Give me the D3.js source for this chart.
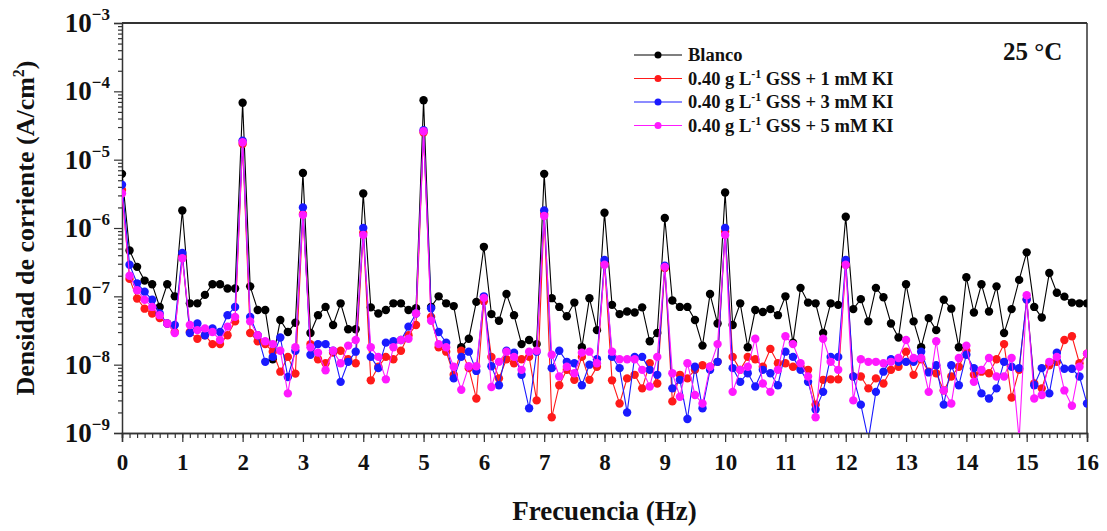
<!DOCTYPE html>
<html>
<head>
<meta charset="utf-8">
<script src="https://cdn.jsdelivr.net/npm/d3@7"></script>
<style>
  body { margin: 0; background: #fff; }
  svg text { font-family: "Liberation Serif", "Times New Roman", serif; font-weight: bold; fill: #111; }
</style>
</head>
<body>
<script>
// Define SVG area dimensions
var svgWidth = 1107;
var svgHeight = 531;

// plot box
var chartMargin = { top: 23, right: 20, bottom: 98, left: 122 };
var chartWidth = svgWidth - chartMargin.left - chartMargin.right;   // 965
var chartHeight = svgHeight - chartMargin.top - chartMargin.bottom; // 410

// frequency grid of the spectrum (0 .. 16 Hz, 0.125 Hz bins)
var freqStep = 0.125;
var freq = d3.range(129).map(function(i) { return i * freqStep; });

// Blanco
var blanco = [
  6.2e-6, 4.7e-7, 2.7e-7, 1.7e-7, 1.5e-7, 7.0e-8, 1.5e-7, 1.0e-7,
  1.8e-6, 7.9e-8, 7.9e-8, 1.05e-7, 1.5e-7, 1.5e-7, 1.3e-7, 1.3e-7,
  6.8e-5, 1.4e-7, 6.3e-8, 6.3e-8, 1.2e-8, 4.5e-8, 3.0e-8, 4.1e-8,
  6.4e-6, 2.9e-8, 5.3e-8, 7.0e-8, 3.8e-8, 7.9e-8, 3.3e-8, 3.3e-8,
  3.2e-6, 6.9e-8, 5.6e-8, 6.3e-8, 7.9e-8, 7.9e-8, 6.3e-8, 6.7e-8,
  7.4e-5, 7.0e-8, 1.0e-7, 7.9e-8, 7.2e-8, 1.8e-8, 2.4e-8, 8.3e-8,
  5.3e-7, 5.5e-8, 4.4e-8, 1.08e-7, 5.3e-8, 2.0e-8, 2.3e-8, 2.0e-8,
  6.2e-6, 9.4e-8, 7.0e-8, 5.1e-8, 8.1e-8, 1.8e-8, 9.4e-8, 3.2e-8,
  1.67e-6, 7.5e-8, 5.5e-8, 6.0e-8, 5.8e-8, 6.9e-8, 2.2e-8, 2.9e-8,
  1.4e-6, 8.7e-8, 7.0e-8, 7.0e-8, 4.5e-8, 1.9e-8, 1.08e-7, 4.0e-8,
  3.3e-6, 3.8e-8, 7.9e-8, 1.8e-8, 6.3e-8, 5.9e-8, 6.5e-8, 5.3e-8,
  1.0e-7, 2.1e-8, 1.33e-7, 8.1e-8, 7.9e-8, 2.9e-8, 7.9e-8, 7.5e-8,
  1.46e-6, 6.5e-8, 9.1e-8, 4.3e-8, 1.33e-7, 9.7e-8, 4.0e-8, 2.5e-8,
  1.5e-7, 4.3e-8, 1.8e-8, 4.8e-8, 3.2e-8, 8.9e-8, 6.6e-8, 1.8e-8,
  1.9e-7, 5.8e-8, 1.5e-7, 6.0e-8, 1.4e-7, 2.9e-8, 6.5e-8, 1.74e-7,
  4.4e-7, 7.0e-8, 4.9e-8, 2.2e-7, 1.13e-7, 9.9e-8, 8.1e-8, 7.9e-8,
  7.9e-8
];

// 0.40 g/L GSS + 1 mM KI
var ki1 = [
  3.6e-6, 1.8e-7, 9.3e-8, 6.6e-8, 5.6e-8, 4.8e-8, 4.0e-8, 3.0e-8,
  3.8e-7, 3.0e-8, 2.4e-8, 2.7e-8, 2.0e-8, 2.0e-8, 2.7e-8, 4.3e-8,
  1.7e-5, 2.9e-8, 2.2e-8, 2.0e-8, 1.55e-8, 7.9e-9, 1.3e-8, 7.4e-9,
  1.6e-6, 2.0e-8, 1.2e-8, 1.05e-8, 1.5e-8, 1.6e-8, 1.2e-8, 1.05e-8,
  8.5e-7, 5.9e-9, 9.3e-9, 1.3e-8, 1.2e-8, 1.6e-8, 2.7e-8, 3.8e-8,
  2.5e-5, 5.0e-8, 1.8e-8, 1.55e-8, 7.1e-9, 1.6e-8, 8.9e-9, 3.2e-9,
  8.5e-8, 1.3e-8, 6.3e-9, 1.2e-8, 1.05e-8, 1.2e-8, 1.3e-8, 3.0e-9,
  1.6e-6, 1.7e-9, 5.0e-9, 8.4e-9, 6.0e-9, 1.3e-8, 6.0e-9, 9.3e-9,
  3.0e-7, 5.9e-9, 2.7e-9, 6.3e-9, 7.1e-9, 4.5e-9, 1.05e-8, 5.3e-9,
  2.6e-7, 2.9e-9, 7.1e-9, 6.3e-9, 8.4e-9, 9.8e-9, 9.3e-9, 1.1e-8,
  8.8e-7, 1.3e-8, 8.4e-9, 1.3e-8, 1.2e-8, 9.3e-9, 1.7e-8, 1.05e-8,
  1.05e-8, 9.3e-9, 9.3e-9, 8.4e-9, 2.6e-9, 6.0e-9, 6.1e-9, 6.1e-9,
  2.9e-7, 6.7e-9, 6.7e-9, 4.5e-9, 6.3e-9, 5.3e-9, 8.4e-9, 9.3e-9,
  1.55e-8, 7.1e-9, 1.2e-8, 7.9e-9, 7.5e-9, 4.2e-9, 6.7e-9, 9.3e-9,
  1.6e-8, 7.1e-9, 7.9e-9, 7.5e-9, 1.2e-8, 2.0e-8, 3.3e-9, 8.4e-9,
  9.0e-8, 5.3e-9, 4.5e-9, 9.8e-9, 1.1e-8, 2.3e-8, 2.6e-8, 1.05e-8,
  1.45e-8
];

// 0.40 g/L GSS + 3 mM KI
var ki3 = [
  4.3e-6, 2.9e-7, 1.55e-7, 1.17e-7, 8.9e-8, 5.6e-8, 4.0e-8, 3.8e-8,
  4.3e-7, 2.9e-8, 4.0e-8, 2.7e-8, 3.4e-8, 3.0e-8, 5.3e-8, 7.0e-8,
  1.9e-5, 5.0e-8, 2.7e-8, 1.1e-8, 1.3e-8, 2.5e-8, 6.6e-9, 1.6e-8,
  2.0e-6, 1.4e-8, 2.0e-8, 2.0e-8, 1.6e-8, 5.6e-9, 1.1e-8, 1.55e-8,
  1.0e-6, 1.3e-8, 8.9e-9, 2.1e-8, 2.2e-8, 2.3e-8, 3.6e-8, 5.6e-8,
  2.7e-5, 6.7e-8, 3.0e-8, 2.1e-8, 6.3e-9, 1.3e-8, 1.55e-8, 8.1e-9,
  1.0e-7, 9.5e-9, 5.0e-9, 1.6e-8, 1.5e-8, 7.1e-9, 2.3e-9, 1.55e-8,
  1.8e-6, 8.9e-9, 1.6e-8, 1.1e-8, 1.05e-8, 5.0e-9, 1.0e-8, 1.2e-8,
  3.4e-7, 1.3e-8, 8.9e-9, 2.0e-9, 1.3e-8, 1.3e-8, 8.4e-9, 7.1e-9,
  2.8e-7, 4.5e-9, 6.0e-9, 1.6e-9, 9.3e-9, 2.3e-9, 8.4e-9, 1.1e-8,
  1.0e-6, 8.9e-9, 5.6e-9, 7.5e-9, 4.8e-9, 8.4e-9, 7.5e-9, 5.0e-9,
  1.55e-8, 1.3e-8, 8.4e-9, 5.6e-9, 2.2e-9, 4.0e-9, 1.3e-8, 1.3e-8,
  3.4e-7, 6.7e-9, 2.6e-9, 8.0e-10, 4.0e-9, 7.9e-9, 1.2e-8, 1.1e-8,
  1.1e-8, 1.1e-8, 1.55e-8, 7.7e-9, 9.8e-9, 2.6e-9, 9.8e-9, 5.0e-9,
  1.4e-8, 8.9e-9, 3.8e-9, 3.2e-9, 4.5e-9, 1.1e-8, 9.3e-9, 8.9e-9,
  9.0e-8, 5.0e-9, 8.9e-9, 3.8e-9, 1.5e-8, 8.7e-9, 8.7e-9, 6.7e-9,
  2.7e-9
];

// 0.40 g/L GSS + 5 mM KI
var ki5 = [
  3.2e-6, 2.0e-7, 1.23e-7, 8.9e-8, 7.0e-8, 5.3e-8, 4.0e-8, 2.9e-8,
  3.6e-7, 3.8e-8, 3.2e-8, 3.4e-8, 3.0e-8, 2.3e-8, 3.6e-8, 5.0e-8,
  1.8e-5, 4.3e-8, 2.7e-8, 2.2e-8, 2.0e-8, 1.6e-8, 3.8e-9, 1.8e-8,
  1.55e-6, 1.8e-8, 1.5e-8, 8.3e-9, 1.6e-8, 1.05e-8, 1.9e-8, 2.3e-8,
  7.9e-7, 1.8e-8, 1.3e-8, 6.1e-9, 1.8e-8, 2.3e-8, 2.4e-8, 5.6e-8,
  2.6e-5, 4.4e-8, 2.0e-8, 1.8e-8, 9.3e-9, 4.3e-9, 9.5e-9, 9.5e-9,
  9.5e-8, 4.7e-9, 1.1e-8, 1.55e-8, 1.3e-8, 8.4e-9, 1.55e-8, 1.6e-8,
  1.5e-6, 1.4e-8, 6.7e-9, 9.3e-9, 7.5e-9, 1.5e-8, 1.55e-8, 1.05e-8,
  2.9e-7, 1.55e-8, 1.2e-8, 1.2e-8, 1.2e-8, 8.4e-9, 4.8e-9, 1.3e-8,
  2.7e-7, 7.5e-9, 3.4e-9, 1.05e-8, 3.6e-9, 2.7e-9, 9.3e-9, 2.0e-8,
  7.9e-7, 4.0e-9, 8.4e-9, 9.3e-9, 2.4e-8, 5.3e-9, 4.0e-9, 8.4e-9,
  2.6e-8, 2.0e-8, 1.05e-8, 6.7e-9, 1.7e-9, 2.4e-8, 1.1e-8, 8.4e-9,
  2.9e-7, 3.0e-9, 1.2e-8, 1.1e-8, 1.1e-8, 1.05e-8, 1.1e-8, 1.25e-8,
  2.3e-8, 1.25e-8, 1.25e-8, 4.0e-9, 2.2e-8, 4.2e-9, 2.7e-9, 1.25e-8,
  1.9e-8, 5.6e-9, 8.4e-9, 1.25e-8, 6.7e-9, 6.7e-9, 1.25e-8, 8.0e-10,
  1.04e-7, 3.2e-9, 3.6e-9, 1.1e-8, 1.3e-8, 4.2e-9, 2.5e-9, 9.3e-9,
  1.45e-8
];

var seriesNames = ["Blanco", "1", "3", "5"];
var seriesColors = ["#000000", "#ff1a1a", "#1a1aff", "#ff19ff"];
var seriesData = [blanco, ki1, ki3, ki5];

var xTicks = d3.range(0, 17, 1);
var yTicks = [1e-9, 1e-8, 1e-7, 1e-6, 1e-5, 1e-4, 1e-3];
var yTickExp = ["-9", "-8", "-7", "-6", "-5", "-4", "-3"];

var svg = d3.select("body")
    .append("svg")
    .attr("width", svgWidth)
    .attr("height", svgHeight);

var chart = svg.append("g")
    .attr("transform", "translate(" + chartMargin.left + ", " + chartMargin.top + ")");

var xScale = d3.scaleLinear().domain([0, 16]).range([0, chartWidth]);
var yScale = d3.scaleLog().domain([1e-9, 1e-3]).range([chartHeight, 0]);

chart.append("clipPath").attr("id", "plotclip")
    .append("rect").attr("x", 0).attr("y", 0)
    .attr("width", chartWidth).attr("height", chartHeight);

// frame top / right
chart.append("line").attr("x1", 0).attr("x2", chartWidth).attr("y1", 0).attr("y2", 0)
    .attr("stroke", "#333").attr("stroke-width", 2);
chart.append("line").attr("x1", chartWidth).attr("x2", chartWidth).attr("y1", 0).attr("y2", chartHeight)
    .attr("stroke", "#333").attr("stroke-width", 1.5);

// minor x ticks every bin
var xMinor = chart.append("g")
    .attr("transform", "translate(0, " + chartHeight + ")")
    .call(d3.axisBottom(xScale).tickValues(freq).tickSize(5).tickFormat(""));
var xMajor = chart.append("g")
    .attr("transform", "translate(0, " + chartHeight + ")")
    .call(d3.axisBottom(xScale).tickValues(xTicks).tickSize(9).tickFormat(d3.format("d")).tickPadding(12));
xMajor.selectAll("text").style("font-size", "23px").attr("fill", "#111");

// minor y ticks 2..9 in each decade
var yMinorVals = [];
yTicks.slice(0, 6).forEach(function(t) {
    [2, 3, 4, 5, 6, 7, 8, 9].forEach(function(m) { yMinorVals.push(t * m); });
});
chart.append("g")
    .call(d3.axisLeft(yScale).tickValues(yMinorVals).tickSize(4).tickFormat(""));
var yMajor = chart.append("g")
    .call(d3.axisLeft(yScale).tickValues(yTicks).tickSize(8).tickFormat(""));

[xMinor, xMajor, yMajor].forEach(function(a) { a.select(".domain").attr("stroke", "#333").attr("stroke-width", 1.5); });
chart.selectAll(".tick line").attr("stroke", "#333").attr("stroke-width", 1.2);

// y tick labels 10^n
var yLab = chart.selectAll(".ylab")
    .data(yTicks)
    .enter()
    .append("text")
    .attr("class", "ylab")
    .attr("x", -12)
    .attr("y", d => yScale(d) + 9)
    .attr("text-anchor", "end")
    .style("font-size", "27px");
yLab.append("tspan").text("10");
yLab.append("tspan")
    .attr("dy", -12)
    .style("font-size", "17px")
    .text((d, i) => yTickExp[i].replace("-", "\u2212"));

// data lines + markers
var line = d3.line()
    .x((d, i) => xScale(freq[i]))
    .y(d => yScale(d));

var plot = chart.append("g").attr("clip-path", "url(#plotclip)");
seriesData.forEach(function(vals, s) {
    var g = plot.append("g");
    g.append("path")
        .datum(vals)
        .attr("d", line)
        .attr("fill", "none")
        .attr("stroke", seriesColors[s])
        .attr("stroke-width", 1.1);
    g.selectAll("circle")
        .data(vals)
        .enter()
        .append("circle")
        .attr("cx", (d, i) => xScale(freq[i]))
        .attr("cy", d => yScale(d))
        .attr("r", 4.2)
        .attr("fill", seriesColors[s]);
});

// axis titles
svg.append("text")
    .attr("x", chartMargin.left + chartWidth / 2)
    .attr("y", 520)
    .attr("text-anchor", "middle")
    .style("font-size", "27px")
    .text("Frecuencia (Hz)");

var yTitle = svg.append("text")
    .attr("transform", "translate(34, " + (chartMargin.top + chartHeight / 2) + ") rotate(-90)")
    .attr("text-anchor", "middle")
    .style("font-size", "26px");
yTitle.append("tspan").text("Densidad de corriente (A/cm");
yTitle.append("tspan").attr("dy", -10).style("font-size", "16px").text("2");
yTitle.append("tspan").attr("dy", 10).text(")");

// legend
var legend = svg.append("g").attr("transform", "translate(634, 55)");
var legendRows = legend.selectAll("g")
    .data(seriesNames)
    .enter()
    .append("g")
    .attr("transform", (d, i) => "translate(0, " + (i * 23.5) + ")");
legendRows.append("line")
    .attr("x1", 0).attr("x2", 48).attr("y1", 0).attr("y2", 0)
    .attr("stroke", (d, i) => seriesColors[i])
    .attr("stroke-width", 1.1);
legendRows.append("circle")
    .attr("cx", 24).attr("cy", 0).attr("r", 3.5)
    .attr("fill", (d, i) => seriesColors[i]);
var legendText = legendRows.append("text")
    .attr("x", 54)
    .attr("y", 6)
    .style("font-size", "18.5px");
legendText.each(function(d) {
    var t = d3.select(this);
    if (d === "Blanco") {
        t.text("Blanco");
    } else {
        t.append("tspan").text("0.40 g L");
        t.append("tspan").attr("dy", -7).style("font-size", "12px").text("-1");
        t.append("tspan").attr("dy", 7).text(" GSS + " + d + " mM KI");
    }
});

svg.append("text")
    .attr("x", 1003)
    .attr("y", 60)
    .style("font-size", "25px")
    .text("25 \u00B0C");
</script>
</body>
</html>
